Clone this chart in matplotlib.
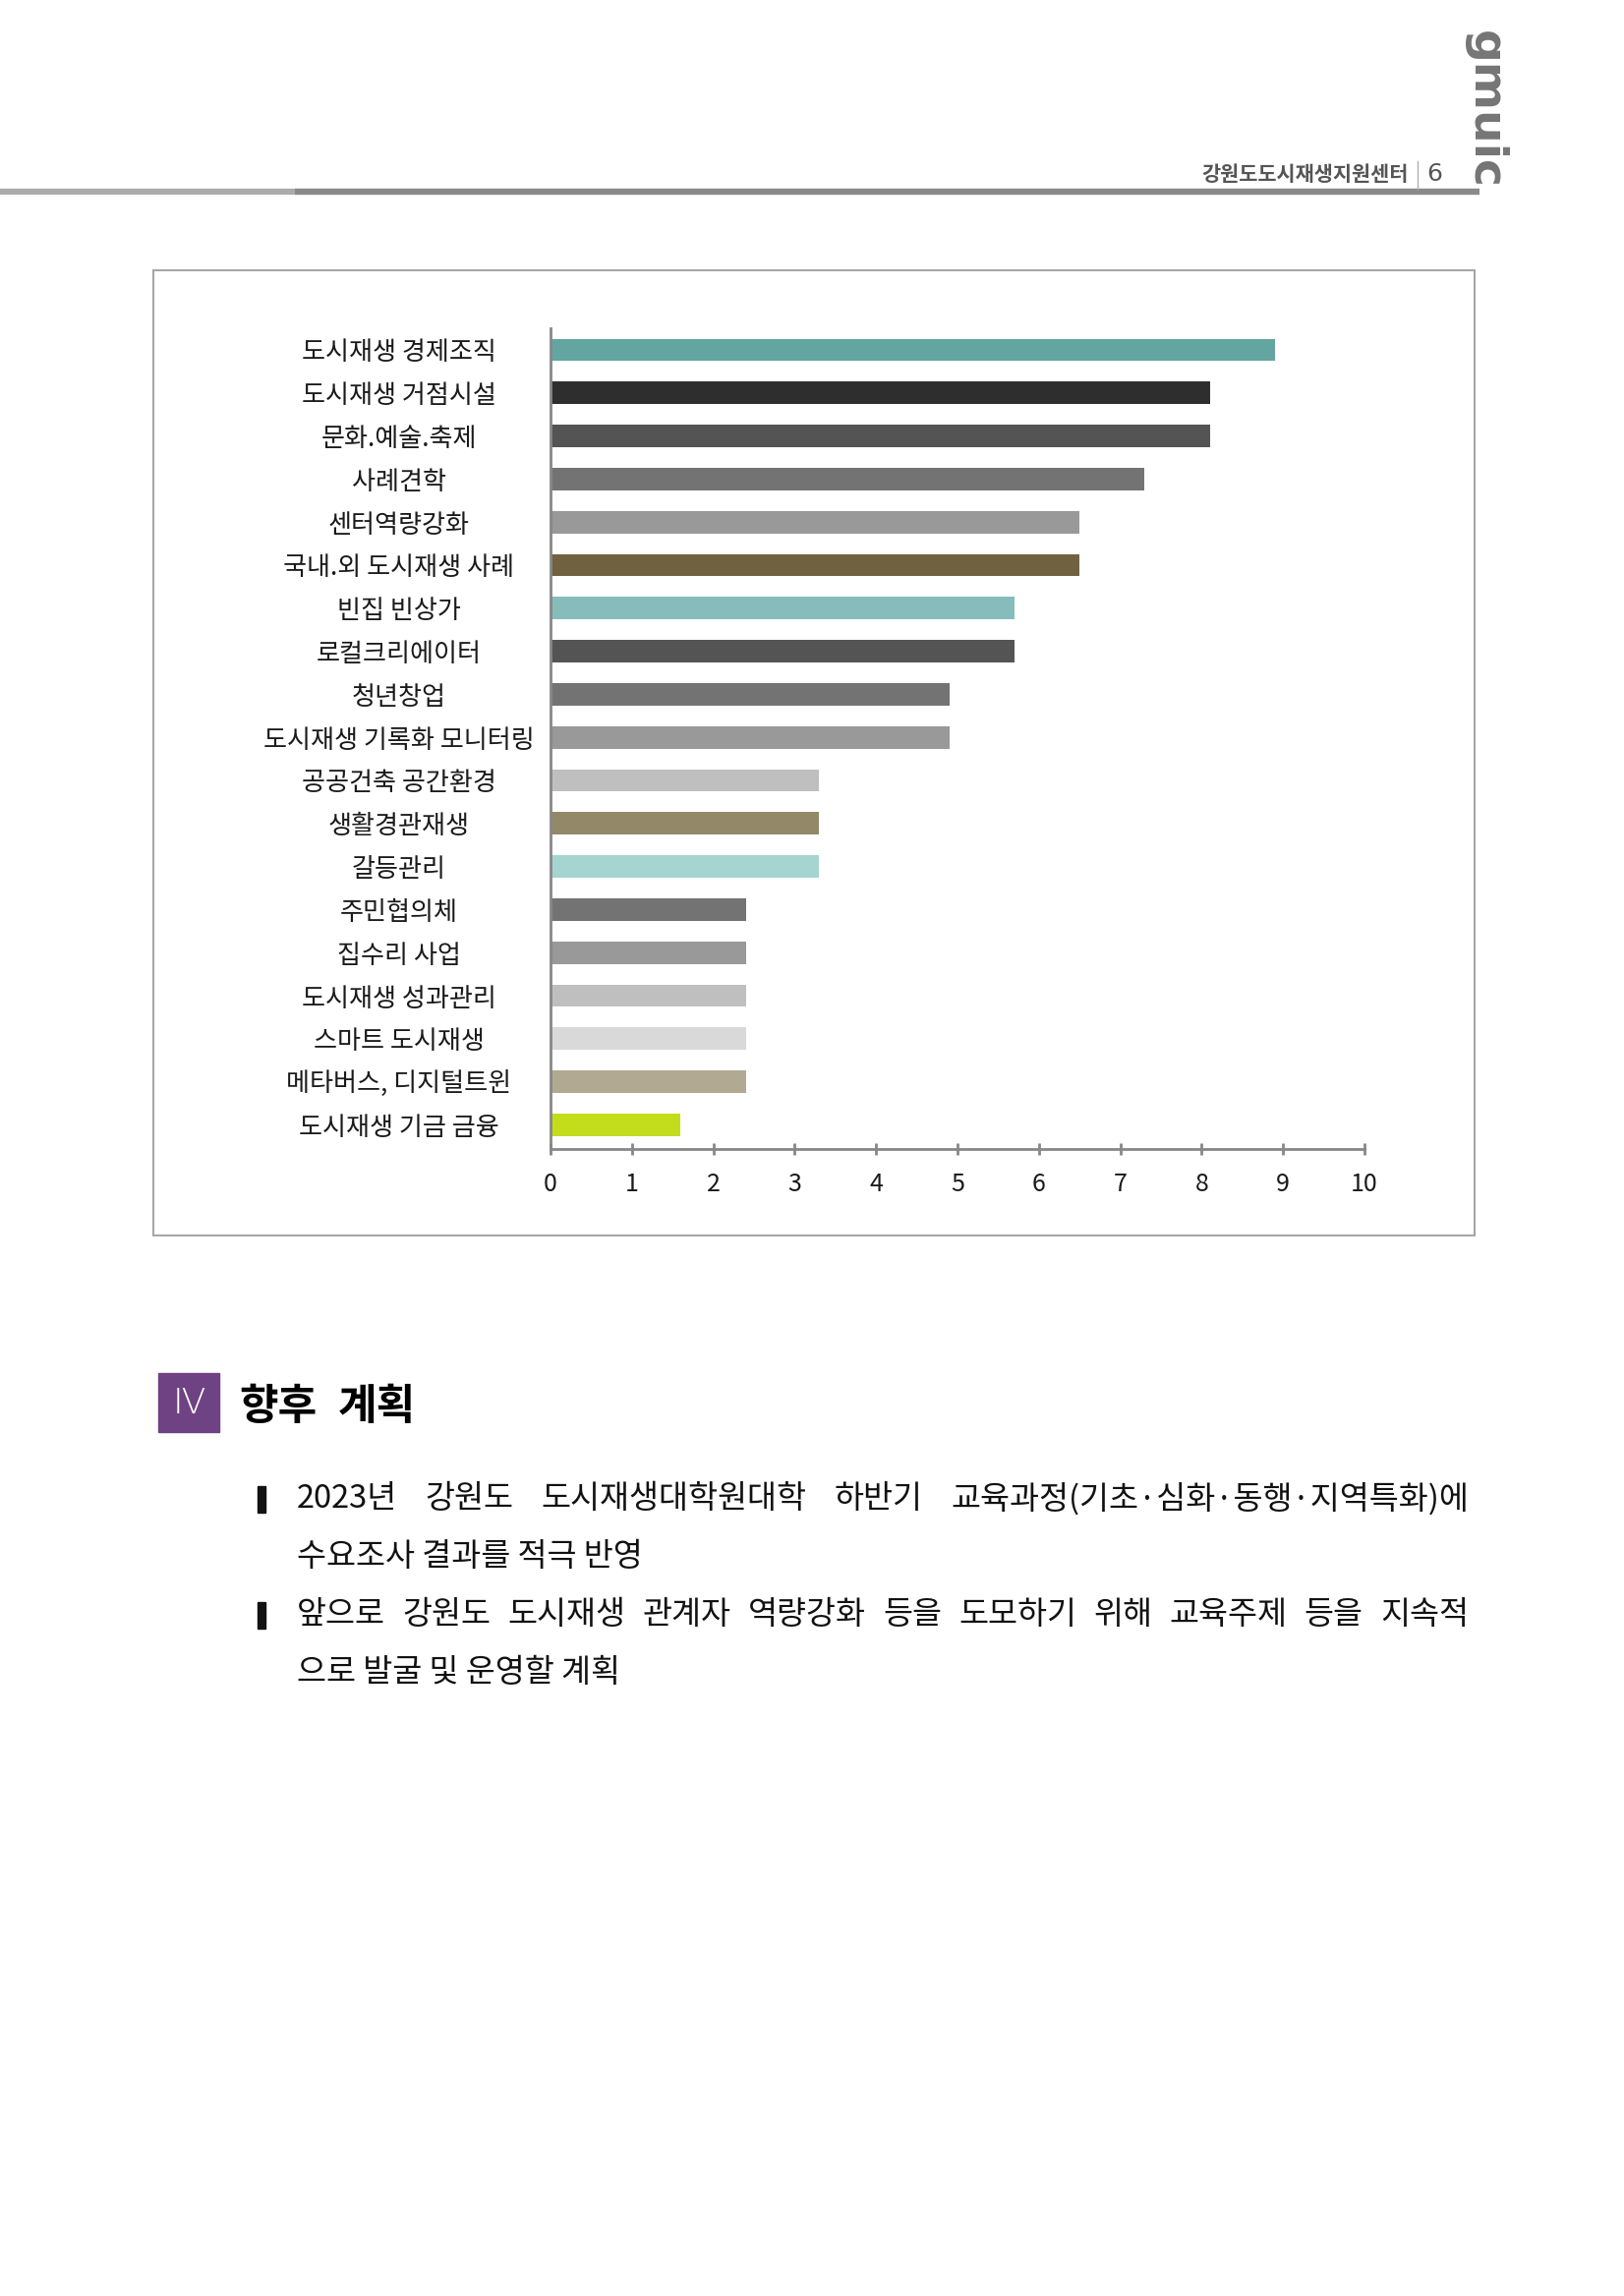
import matplotlib
matplotlib.use("Agg")
import matplotlib.pyplot as plt
from matplotlib.patches import Rectangle

plt.rcParams['font.family'] = ['Noto Sans CJK KR', 'DejaVu Sans']

# data
categories = ["도시재생 경제조직", "도시재생 거점시설", "문화.예술.축제", "사례견학",
              "센터역량강화", "국내.외 도시재생 사례", "빈집 빈상가", "로컬크리에이터",
              "청년창업", "도시재생 기록화 모니터링", "공공건축 공간환경", "생활경관재생",
              "갈등관리", "주민협의체", "집수리 사업", "도시재생 성과관리",
              "스마트 도시재생", "메타버스, 디지털트윈", "도시재생 기금 금융"]
values = [8.9, 8.1, 8.1, 7.3, 6.5, 6.5, 5.7, 5.7, 4.9, 4.9,
          3.3, 3.3, 3.3, 2.4, 2.4, 2.4, 2.4, 2.4, 1.6]
colors = ["#63a5a1", "#2e2e2e", "#545454", "#737373", "#999999", "#706241",
          "#86bdbb", "#545454", "#737373", "#999999", "#bfbfbf", "#938868",
          "#a6d4d0", "#737373", "#999999", "#bfbfbf", "#d9d9d9", "#b2a993",
          "#c3dd1c"]
xticks = list(range(0, 11))

header_text = "강원도도시재생지원센터"
page_no = "6"
section_no = "Ⅳ"
section_title = ["향후", "계획"]
body_lines = [
    (["2023년", "강원도", "도시재생대학원대학", "하반기", "교육과정(기초·심화·동행·지역특화)에"], True, True),
    (["수요조사 결과를 적극 반영"], False, False),
    (["앞으로", "강원도", "도시재생", "관계자", "역량강화", "등을", "도모하기", "위해",
      "교육주제", "등을", "지속적"], True, True),
    (["으로 발굴 및 운영할 계획"], False, False),
]

W, H = 1652, 2336
fig = plt.figure(figsize=(W / 100, H / 100), dpi=100)
fig.patch.set_facecolor("white")

# page layer in pixel coordinates
bg = fig.add_axes([0, 0, 1, 1])
bg.set_xlim(0, W)
bg.set_ylim(H, 0)
bg.axis("off")

# header
bg.plot([0, 1505], [195, 195], color="#ababab", lw=4.5, solid_capstyle="butt")
bg.plot([300, 1505], [195, 195], color="#8a8a8a", lw=4.5, solid_capstyle="butt")
bg.text(1433, 178, header_text, ha="right", va="center", fontsize=15,
        fontweight="bold", color="#555555")
bg.plot([1442, 1442], [164, 192], color="#b0b0b0", lw=1)
bg.text(1451, 177, page_no, ha="left", va="center", fontsize=18,
        color="#555555", family=["DejaVu Sans"])
bg.text(1510, 112, "gmuic", rotation=-90, ha="center", va="center",
        fontsize=34, fontweight="bold", color="#757575", family=["DejaVu Sans"])

# chart frame
bg.add_patch(Rectangle((156, 275), 1344, 982, fill=False, edgecolor="#a6a6a6", lw=1.5))

# bar chart
ax = fig.add_axes([560 / W, 1 - 1169 / H, 828 / W, (1169 - 334) / H])
ypos = list(range(len(categories)))
ax.barh(ypos, values, height=0.52, color=colors)
ax.set_xlim(0, 10)
ax.set_ylim(18.56, -0.5)
ax.set_xticks(xticks)
ax.set_yticks(ypos)
ax.set_yticklabels(categories)
for lab in ax.get_yticklabels():
    lab.set_horizontalalignment("center")
ax.tick_params(axis="y", length=0, pad=111, labelsize=18.8, labelcolor="#1a1a1a")
ax.tick_params(axis="x", direction="inout", length=9, width=2, color="#878787",
               pad=12, labelsize=18, labelcolor="#1a1a1a")
for s in ["top", "right"]:
    ax.spines[s].set_visible(False)
for s in ["left", "bottom"]:
    ax.spines[s].set_color("#878787")
    ax.spines[s].set_linewidth(2)
ax.patch.set_alpha(0)

# section heading
bg.add_patch(Rectangle((161, 1397), 62, 60, color="#6f4283"))
bg.text(192, 1428, section_no, ha="center", va="center", fontsize=26, color="white",
        family=["DejaVu Sans"], fontweight="light")
bg.text(243, 1431, section_title[0], ha="left", va="center", fontsize=31, fontweight="bold")
bg.text(344, 1431, section_title[1], ha="left", va="center", fontsize=31, fontweight="bold")

# body text, justified lines
renderer = fig.canvas.get_renderer()
line_y = [1525, 1584, 1643, 1702]
x_left, x_right = 302, 1494
body_size = 23.5
for (words, justify, bullet), y in zip(body_lines, line_y):
    if bullet:
        bg.add_patch(Rectangle((262, y - 13), 8, 27, color="#111111"))
    texts = [bg.text(x_left, y, w, ha="left", va="center", fontsize=body_size,
                     color="#111111") for w in words]
    if justify and len(texts) > 1:
        widths = [t.get_window_extent(renderer).width for t in texts]
        gap = (x_right - x_left - sum(widths)) / (len(texts) - 1)
        x = x_left
        for t, w in zip(texts, widths):
            t.set_x(x)
            x += w + gap

fig.savefig("out.png", dpi=100, facecolor="white")
